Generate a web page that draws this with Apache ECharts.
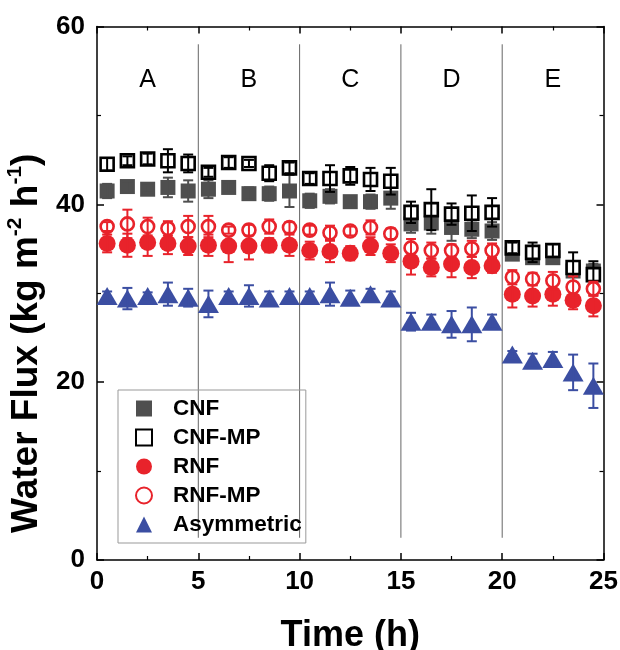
<!DOCTYPE html>
<html>
<head>
<meta charset="utf-8">
<script src="https://cdn.jsdelivr.net/npm/echarts@6/dist/echarts.min.js"></script>
<style>
html,body{margin:0;padding:0;background:#fff;}
#chart{width:620px;height:650px;}
</style>
</head>
<body>
<div id="chart"></div>
<script>
var times = [0.5,1.5,2.5,3.5,4.5, 5.5,6.5,7.5,8.5,9.5, 10.5,11.5,12.5,13.5,14.5, 15.5,16.5,17.5,18.5,19.5, 20.5,21.5,22.5,23.5,24.5];

var cnf = [41.5,42.0,41.7,41.9,41.5, 41.7,41.9,41.2,41.2,41.5, 40.4,40.9,40.3,40.3,40.7, 37.8,37.9,37.4,37.2,37.0, 34.4,34.0,34.0,32.5,32.5];
var cnfErr = [0.8,0.6,0.4,1.1,1.2, 1.0,0.6,0.7,0.8,1.8, 0.8,0.8,0.6,0.8,1.2, 1.0,1.2,1.5,1.0,1.0, 0.5,0.5,0.5,0.5,0.8];

var cnfMp = [44.5,44.9,45.1,44.9,44.6, 43.6,44.7,44.6,43.5,44.1, 42.9,42.9,43.2,42.8,42.6, 39.1,39.4,38.9,39.0,39.1, 35.1,34.6,34.8,32.9,32.1];
var cnfMpErr = [0.7,0.5,0.6,1.3,1.0, 0.5,0.6,0.4,0.9,0.6, 0.6,1.5,1.0,1.3,1.5, 1.2,2.3,1.2,2.0,1.6, 0.6,1.1,0.7,1.7,1.5];

var rnf = [35.6,35.4,35.7,35.6,35.3, 35.4,35.3,35.3,35.4,35.4, 34.8,34.7,34.5,35.3,34.5, 33.6,32.9,33.3,32.9,33.1, 29.9,29.7,29.9,29.2,28.6];
var rnfErr = [1.0,1.3,1.5,1.2,1.0, 1.2,1.8,1.5,0.8,1.2, 1.0,1.2,0.8,1.0,1.0, 1.5,1.0,1.5,1.2,0.8, 1.5,1.2,1.3,1.0,1.2];

var rnfMp = [37.5,37.8,37.5,37.3,37.5, 37.5,37.1,37.1,37.5,37.4, 37.1,36.8,37.0,37.4,36.7, 35.1,34.8,34.8,35.0,34.8, 31.8,31.6,31.4,30.7,30.5];
var rnfMpErr = [0.5,1.6,1.0,0.8,1.2, 1.2,0.4,0.6,0.8,0.6, 0.5,0.8,0.5,0.8,0.6, 1.0,0.9,0.7,0.9,0.8, 0.8,0.7,1.0,1.2,0.8];

var asym = [29.7,29.4,29.7,29.9,29.5, 28.8,29.7,29.7,29.4,29.7, 29.7,29.9,29.5,29.9,29.4, 26.8,26.8,26.5,26.5,26.8, 23.1,22.4,22.6,21.1,19.6];
var asymErr = [0.5,1.2,0.4,1.3,1.0, 1.5,0.5,1.2,0.8,0.5, 0.5,1.3,0.8,0.6,0.8, 1.0,0.8,1.5,1.9,0.8, 0.4,0.8,0.8,2.0,2.5];

var seriesNames = ['CNF','CNF-MP','RNF','RNF-MP','Asymmetric'];
var sectionLabels = ['A','B','C','D','E'];
var sectionCenters = [2.5,7.5,12.5,17.5,22.5];
var sectionLabelY = 54;
var dividers = [5,10,15,20];
var dividerRange = [2.5,58];
var xTicks = [0,5,10,15,20,25];
var yTicks = [0,20,40,60];

var FONT = '"Liberation Sans", Arial, Helvetica, sans-serif';
var RED = '#e8232b', BLUE = '#3b4ea2', GRAY = '#4f4f4f';

function pts(vals){ return vals.map(function(v,i){ return [times[i], v]; }); }
function errData(vals, errs){ return vals.map(function(v,i){ return [times[i], v - errs[i], v + errs[i]]; }); }

function errSeries(vals, errs, color, z){
  return {
    type:'custom', z:z, silent:true, legendHoverLink:false,
    data: errData(vals, errs),
    renderItem: function(params, api){
      var x = api.value(0);
      var lo = api.coord([x, api.value(1)]);
      var hi = api.coord([x, api.value(2)]);
      var cw = 5;
      var st = {stroke: color, lineWidth: 2, fill: null};
      return {type:'group', children:[
        {type:'line', shape:{x1:lo[0], y1:lo[1], x2:hi[0], y2:hi[1]}, style:st},
        {type:'line', shape:{x1:lo[0]-cw, y1:lo[1], x2:lo[0]+cw, y2:lo[1]}, style:st},
        {type:'line', shape:{x1:hi[0]-cw, y1:hi[1], x2:hi[0]+cw, y2:hi[1]}, style:st}
      ]};
    }
  };
}

var chart = echarts.init(document.getElementById('chart'), null, {renderer:'canvas'});

var axisCommon = {
  axisLine:{show:true, onZero:false, lineStyle:{color:'#000', width:1.5}},
  axisTick:{show:true, inside:true, length:7, lineStyle:{color:'#000', width:1.5}},
  minorTick:{show:true, splitNumber:2, length:4, lineStyle:{color:'#000', width:1.2}},
  splitLine:{show:false}
};

var option = {
  animation:false,
  backgroundColor:'#fff',
  grid:{left:97, right:16.5, top:26.5, bottom:90, containLabel:false, outerBoundsMode:'none'},
  legend:{
    orient:'vertical', left:118, top:390,
    data: seriesNames,
    selectedMode:false,
    itemWidth:16, itemHeight:16, itemGap:6,
    padding:[7,4,7,17],
    borderColor:'#999', borderWidth:1,
    textStyle:{fontFamily:FONT, fontSize:22.5, fontWeight:'bold', color:'#000', padding:[0,0,0,16]}
  },
  xAxis:[
    Object.assign({
      type:'value', min:0, max:25, interval:5, position:'bottom',
      axisLabel:{show:true, fontFamily:FONT, fontSize:26, fontWeight:'bold', color:'#000', margin:9,
        formatter:function(v){ return xTicks.indexOf(v) >= 0 ? String(v) : ''; }},
      name:'Time (h)', nameLocation:'middle', nameGap:58,
      nameTextStyle:{fontFamily:FONT, fontSize:36, fontWeight:'bold', color:'#000'}
    }, axisCommon),
    Object.assign({
      type:'value', min:0, max:25, interval:5, position:'top',
      axisLabel:{show:false}
    }, axisCommon)
  ],
  yAxis:[
    Object.assign({
      type:'value', min:0, max:60, interval:20, position:'left',
      axisLabel:{show:true, fontFamily:FONT, fontSize:26, fontWeight:'bold', color:'#000', margin:12,
        formatter:function(v){ return yTicks.indexOf(v) >= 0 ? String(v) : ''; }},
      name:'{m|Water Flux (kg m}{s|-2}{m| h}{s|-1}{e|)}',
      nameLocation:'middle', nameGap:40, nameRotate:90,
      nameTextStyle:{
        rich:{
          m:{fontFamily:FONT, fontSize:37, fontWeight:'bold', color:'#000', lineHeight:42, verticalAlign:'bottom'},
          e:{fontFamily:FONT, fontSize:37, fontWeight:'bold', color:'#000', lineHeight:42, verticalAlign:'bottom', padding:[0,100,0,0]},
          s:{fontFamily:FONT, fontSize:21, fontWeight:'bold', color:'#000', lineHeight:42, verticalAlign:'top', padding:[2,0,0,0]}
        }
      }
    }, axisCommon),
    Object.assign({
      type:'value', min:0, max:60, interval:20, position:'right',
      axisLabel:{show:false}
    }, axisCommon)
  ],
  series:[
    {
      type:'custom', z:1, silent:true,
      data: dividers.map(function(d){ return [d, dividerRange[0], dividerRange[1]]; }),
      renderItem:function(params, api){
        var a = api.coord([api.value(0), api.value(1)]);
        var b = api.coord([api.value(0), api.value(2)]);
        return {type:'line', shape:{x1:a[0], y1:a[1], x2:b[0], y2:b[1]}, style:{stroke:'#666', lineWidth:1}};
      }
    },
    {
      type:'custom', z:1, silent:true,
      data: sectionCenters.map(function(c,i){ return [c, sectionLabelY, i]; }),
      renderItem:function(params, api){
        var p = api.coord([api.value(0), api.value(1)]);
        return {type:'text', x:p[0], y:p[1], style:{text:sectionLabels[api.value(2)], fontFamily:FONT, fontSize:25, fill:'#000', align:'center', verticalAlign:'middle'}};
      }
    },
    {name:'CNF', type:'scatter', z:2, symbol:'rect', symbolSize:15, data:pts(cnf),
      itemStyle:{color:GRAY, opacity:1}},
    errSeries(cnf, cnfErr, GRAY, 3),
    {name:'CNF-MP', type:'scatter', z:4, symbol:'rect', symbolSize:13, data:pts(cnfMp),
      itemStyle:{color:'#fff', borderColor:'#000', borderWidth:2.6, opacity:1}},
    errSeries(cnfMp, cnfMpErr, '#000', 5),
    {name:'RNF', type:'scatter', z:6, symbol:'circle', symbolSize:17, data:pts(rnf),
      itemStyle:{color:RED, opacity:1}},
    errSeries(rnf, rnfErr, RED, 7),
    {name:'RNF-MP', type:'scatter', z:8, symbol:'circle', symbolSize:13, data:pts(rnfMp),
      itemStyle:{color:'#fff', borderColor:RED, borderWidth:2.6, opacity:1}},
    errSeries(rnfMp, rnfMpErr, RED, 9),
    {name:'Asymmetric', type:'scatter', z:10, symbol:'triangle', symbolSize:[21,18], data:pts(asym),
      itemStyle:{color:BLUE, opacity:1}},
    errSeries(asym, asymErr, BLUE, 11)
  ]
};
chart.setOption(option);
</script>
</body>
</html>
